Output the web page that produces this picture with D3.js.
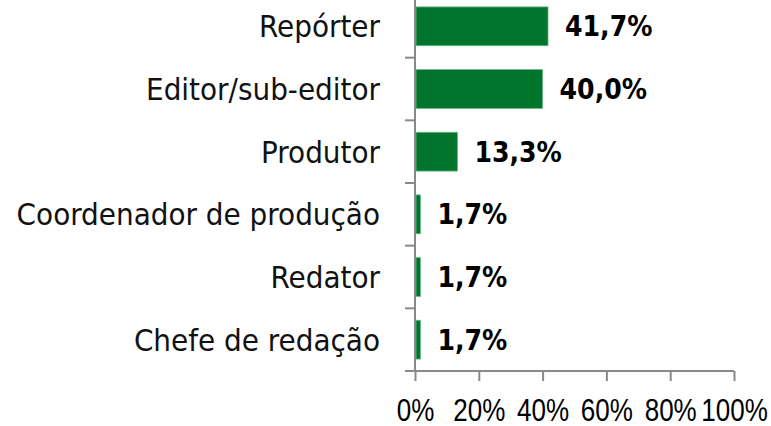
<!DOCTYPE html>
<html>
<head>
<meta charset="utf-8">
<script src="https://cdn.jsdelivr.net/npm/d3@7"></script>
<style>
  html, body { margin: 0; padding: 0; background: #fff; }
  svg { display: block; }
</style>
</head>
<body>
<div id="chart"></div>
<script>
'use strict';

// Data
var categories = ['Repórter', 'Editor/sub-editor', 'Produtor',
  'Coordenador de produção', 'Redator', 'Chefe de redação'];
var shares = [0.417, 0.400, 0.133, 0.017, 0.017, 0.017];
var xTicks = [0, 0.2, 0.4, 0.6, 0.8, 1.0];

var width = 771, height = 426;
var axisX = 415, axisBottom = 371, axisRight = 734;

var ptBR = d3.formatLocale({decimal: ',', thousands: '.', grouping: [3], currency: ['R$', '']});
var pct1 = ptBR.format('.1%');
var pct0 = ptBR.format('.0%');

var svg = d3.select('#chart').append('svg')
  .attr('width', width)
  .attr('height', height);

var x = d3.scaleLinear()
  .domain([0, 1])
  .range([axisX, axisRight]);

// chart top is cut off slightly in the original
var y = d3.scaleBand()
  .domain(categories)
  .range([-5, axisBottom])
  .paddingInner(0.38)
  .paddingOuter(0.19);

var step = y.step();
var bounds = d3.range(categories.length + 1).map(function(i) {
  return y.range()[0] + i * step;
});

// bars
svg.selectAll('rect.bar')
  .data(categories)
  .enter()
  .append('rect')
  .attr('class', 'bar')
  .attr('x', x(0) + 1)
  .attr('y', function(d) { return y(d); })
  .attr('width', function(d, i) { return x(shares[i]) - x(0) - 1; })
  .attr('height', y.bandwidth())
  .attr('fill', '#00752b')
  .attr('stroke', '#6fb98a')
  .attr('stroke-width', 0.8);

// value labels
svg.selectAll('text.value')
  .data(categories)
  .enter()
  .append('text')
  .attr('class', 'value')
  .attr('x', function(d, i) { return x(shares[i]) + 17; })
  .attr('y', function(d) { return y(d) + y.bandwidth() / 2 + 10; })
  .attr('font-family', '"DejaVu Sans Condensed", "DejaVu Sans", sans-serif')
  .attr('font-stretch', 'condensed')
  .attr('font-weight', 'bold')
  .attr('font-size', 28)
  .attr('fill', '#000')
  .text(function(d, i) { return pct1(shares[i]); });

// category labels
svg.selectAll('text.cat')
  .data(categories)
  .enter()
  .append('text')
  .attr('class', 'cat')
  .attr('x', axisX - 35)
  .attr('y', function(d) { return y(d) + y.bandwidth() / 2 + 11; })
  .attr('text-anchor', 'end')
  .attr('font-family', '"DejaVu Sans Condensed", "DejaVu Sans", sans-serif')
  .attr('font-stretch', 'condensed')
  .attr('font-size', 31)
  .attr('fill', '#111')
  .text(function(d) { return d; });

var axisColor = '#898989';

// category tick marks between bands
svg.selectAll('line.ytick')
  .data(bounds)
  .enter()
  .append('line')
  .attr('class', 'ytick')
  .attr('x1', axisX - 10)
  .attr('x2', axisX)
  .attr('y1', function(d) { return d; })
  .attr('y2', function(d) { return d; })
  .attr('stroke', axisColor)
  .attr('stroke-width', 2);

// value axis
var xAxis = d3.axisBottom(x)
  .tickValues(xTicks)
  .tickSize(10)
  .tickSizeOuter(0)
  .tickPadding(18)
  .tickFormat(pct0);

var gx = svg.append('g')
  .attr('class', 'xAxis')
  .attr('transform', 'translate(0,' + axisBottom + ')')
  .call(xAxis);

gx.select('.domain')
  .attr('stroke', axisColor)
  .attr('stroke-width', 2)
  .attr('d', 'M' + (axisX - 10) + ',0H' + axisRight);
gx.selectAll('.tick line')
  .attr('stroke', axisColor)
  .attr('stroke-width', 2);
// narrow face: squeeze Liberation Sans horizontally
gx.selectAll('.tick text')
  .attr('font-family', '"Liberation Sans", Arial, sans-serif')
  .attr('font-size', 31)
  .attr('transform', 'scale(0.84,1)')
  .attr('fill', '#000');

// category axis line
svg.append('line')
  .attr('class', 'yAxis')
  .attr('x1', axisX)
  .attr('x2', axisX)
  .attr('y1', 0)
  .attr('y2', axisBottom)
  .attr('stroke', axisColor)
  .attr('stroke-width', 2);
</script>
</body>
</html>
